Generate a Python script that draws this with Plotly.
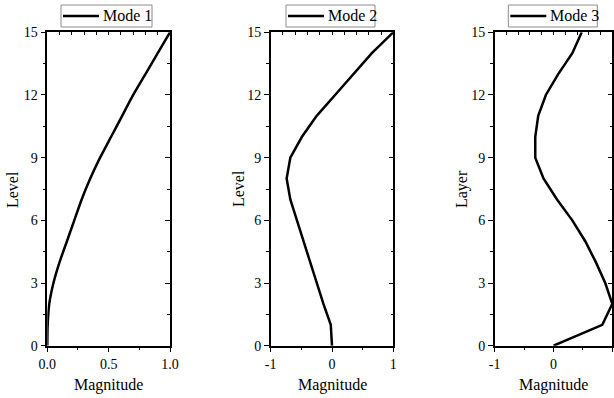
import plotly.graph_objects as go

levels = list(range(0, 16))
mode1 = [0.0, 0.003, 0.016, 0.05, 0.10, 0.16, 0.22, 0.28, 0.35, 0.43, 0.52, 0.61, 0.70, 0.80, 0.90, 1.0]
mode2 = [0.0, -0.02, -0.14, -0.25, -0.36, -0.47, -0.58, -0.68, -0.74, -0.68, -0.49, -0.25, 0.05, 0.35, 0.65, 1.0]
mode3 = [0.0, 0.83, 1.0, 0.88, 0.72, 0.54, 0.32, 0.06, -0.17, -0.31, -0.31, -0.26, -0.13, 0.08, 0.32, 0.48]
names = ["Mode 1", "Mode 2", "Mode 3"]
ytitles = ["Level", "Level", "Layer"]
xranges = [[0, 1], [-1, 1], [-1, 1]]
xtickvals = [[0, 0.5, 1], [-1, 0, 1], [-1, 0, 1]]
xticktext = [["0.0", "0.5", "1.0"], ["-1", "0", "1"], ["-1", "0", "1"]]
ytickvals = [0, 3, 6, 9, 12, 15]
yticktext = ["0", "3", "6", "9", "12", "15"]
line_shapes = ["spline", "linear", "linear"]

W, H = 614, 398
# pixel geometry of panels
px_left = [47.3, 270.7, 494.7]
px_right = [170.0, 393.3, 612.3]
py_top, py_bot = 32.3, 345.7
legend_box = [(61, 152), (286, 375), (508.3, 597.3)]
legend_top, legend_bot = 5, 27
ytitle_x = [12, 238, 462]

FONT = "Liberation Serif"
fig = go.Figure()
series = [mode1, mode2, mode3]

def px2paper_x(p):
    return p / W

def px2paper_y(p):
    return (H - p) / H

ydom = [px2paper_y(py_bot), px2paper_y(py_top)]
layout = {}
annotations = []
shapes = []
for i in range(3):
    n = i + 1
    xa = "x" if n == 1 else f"x{n}"
    ya = "y" if n == 1 else f"y{n}"
    fig.add_trace(go.Scatter(x=series[i], y=levels, mode="lines", name=names[i],
                             line=dict(color="black", width=2.5, shape=line_shapes[i],
                                       smoothing=0.6),
                             xaxis=xa, yaxis=ya, showlegend=False))
    dom = [px2paper_x(px_left[i]), px2paper_x(px_right[i])]
    key_x = "xaxis" if n == 1 else f"xaxis{n}"
    key_y = "yaxis" if n == 1 else f"yaxis{n}"
    span = xranges[i][1] - xranges[i][0]
    layout[key_x] = dict(domain=dom, range=xranges[i], anchor=ya,
                         tickmode="array", tickvals=xtickvals[i], ticktext=xticktext[i],
                         showline=True, linecolor="black", linewidth=1.5,
                         ticks="outside", ticklen=5, tickwidth=1.2, tickcolor="black",
                         minor=dict(dtick=span / 4, tick0=xranges[i][0], ticks="outside",
                                    ticklen=3, tickwidth=1, tickcolor="black"),
                         showgrid=False, zeroline=False, automargin=False,
                         tickfont=dict(family=FONT, size=14, color="black"))
    layout[key_y] = dict(domain=ydom, range=[0, 15], anchor=xa,
                         tickmode="array", tickvals=ytickvals, ticktext=yticktext,
                         showline=True, linecolor="black", linewidth=1.5,
                         ticks="outside", ticklen=5, tickwidth=1.2, tickcolor="black",
                         minor=dict(dtick=1.5, tick0=0, ticks="outside", ticklen=3,
                                    tickwidth=1, tickcolor="black"),
                         showgrid=False, zeroline=False, automargin=False,
                         tickfont=dict(family=FONT, size=14, color="black"))
    # mirrored top/right axes with inward ticks
    m = n + 3
    xm = f"x{m}"
    ym = f"y{m}"
    fig.add_trace(go.Scatter(x=[], y=[], xaxis=xm, yaxis=ym, showlegend=False,
                             hoverinfo="skip"))
    layout[f"xaxis{m}"] = dict(overlaying=xa, side="top", anchor=ym, range=xranges[i],
                               dtick=span / 10, tick0=xranges[i][0],
                               showline=True, linecolor="black", linewidth=1.5,
                               ticks="inside", ticklen=3, tickwidth=1, tickcolor="black",
                               showticklabels=False, showgrid=False, zeroline=False,
                               automargin=False)
    layout[f"yaxis{m}"] = dict(overlaying=ya, side="right", anchor=xm, range=[0, 15],
                               dtick=3, tick0=0,
                               showline=True, linecolor="black", linewidth=1.5,
                               ticks="inside", ticklen=5, tickwidth=1.2, tickcolor="black",
                               minor=dict(dtick=1.5, ticks="inside", ticklen=3,
                                          tickwidth=1, tickcolor="black"),
                               showticklabels=False, showgrid=False, zeroline=False,
                               automargin=False)
    # legend box drawn manually
    bx0, bx1 = legend_box[i]
    shapes.append(dict(type="rect", xref="paper", yref="paper",
                       x0=px2paper_x(bx0), x1=px2paper_x(bx1),
                       y0=px2paper_y(legend_bot), y1=px2paper_y(legend_top),
                       line=dict(color="#8c8c8c", width=1), fillcolor="white"))
    ymid = px2paper_y((legend_top + legend_bot) / 2)
    shapes.append(dict(type="line", xref="paper", yref="paper",
                       x0=px2paper_x(bx0 + 2), x1=px2paper_x(bx0 + 38),
                       y0=ymid, y1=ymid, line=dict(color="black", width=2.5)))
    annotations.append(dict(text=names[i], x=px2paper_x(bx0 + 40), y=ymid,
                            xref="paper", yref="paper", xanchor="left", yanchor="middle",
                            showarrow=False,
                            font=dict(family=FONT, size=16, color="black")))
    annotations.append(dict(text="Magnitude", x=px2paper_x((px_left[i] + px_right[i]) / 2),
                            y=px2paper_y(385), xref="paper", yref="paper",
                            xanchor="center", yanchor="middle", showarrow=False,
                            font=dict(family=FONT, size=16, color="black")))
    annotations.append(dict(text=ytitles[i], x=px2paper_x(ytitle_x[i]),
                            y=px2paper_y((py_top + py_bot) / 2), xref="paper", yref="paper",
                            xanchor="center", yanchor="middle", showarrow=False, textangle=-90,
                            font=dict(family=FONT, size=16, color="black")))

fig.update_layout(**layout)
fig.update_layout(width=W, height=H, margin=dict(l=0, r=0, t=0, b=0),
                  plot_bgcolor="white", paper_bgcolor="white",
                  annotations=annotations, shapes=shapes, hovermode=False,
                  showlegend=False)
fig.write_html("out.html")
